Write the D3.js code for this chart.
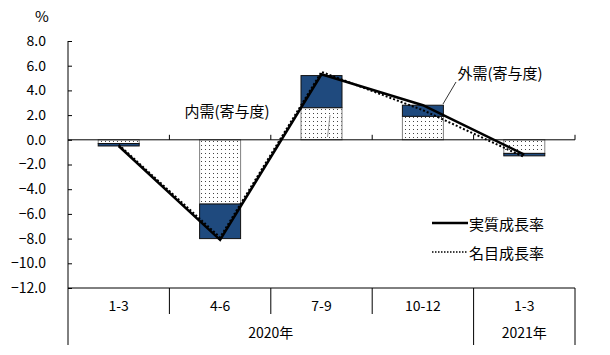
<!DOCTYPE html>
<html><head><meta charset="utf-8">
<script src="https://cdn.jsdelivr.net/npm/d3@7"></script>
<style>
body{margin:0;background:#fff;}
text{font-family:"Noto Sans CJK JP","Noto Sans",sans-serif;fill:#000;}
</style></head>
<body><svg id="c" width="610" height="355"></svg>
<script>
const categories = ["1-3","4-6","7-9","10-12","1-3"];
const years = [{label:"2020年", from:0, to:4},{label:"2021年", from:4, to:5}];
const domestic = [-0.3,-5.2,2.6,1.9,-1.1];
const external = [-0.2,-2.8,2.6,0.9,-0.2];
const realGrowth = [-0.5,-8.1,5.3,2.8,-1.2];
const nominalGrowth = [-0.4,-7.9,5.5,2.4,-1.4];
const yTicks = [8,6,4,2,0,-2,-4,-6,-8,-10,-12];

const svg = d3.select("#c");
const L=68, R=575, T=41, B=288;
const x = d3.scaleBand().domain(d3.range(categories.length)).range([L,R]).paddingInner(0).paddingOuter(0);
const y = d3.scaleLinear().domain([-12,8]).range([B,T]);
const bw = 41;

const defs = svg.append("defs");
const pat = defs.append("pattern").attr("id","dots").attr("patternUnits","userSpaceOnUse").attr("width",4).attr("height",4);
pat.append("rect").attr("width",4).attr("height",4).attr("fill","#fff");
pat.append("rect").attr("x",1).attr("y",1).attr("width",1).attr("height",1).attr("fill","#444");

// bars
const g = svg.append("g");
categories.forEach((c,i)=>{
  const cx = x(i)+x.bandwidth()/2;
  const d = domestic[i], e = external[i];
  g.append("rect").attr("x",cx-bw/2).attr("width",bw)
   .attr("y",Math.min(y(0),y(d))).attr("height",Math.abs(y(d)-y(0)))
   .attr("fill","url(#dots)").attr("stroke","#808080").attr("stroke-width",1);
  g.append("rect").attr("x",cx-bw/2).attr("width",bw)
   .attr("y",Math.min(y(d),y(d+e))).attr("height",Math.abs(y(d+e)-y(d)))
   .attr("fill","#1f4a7e").attr("stroke","#111").attr("stroke-width",1);
});

// axes
const yAxis = d3.axisLeft(y).tickValues(yTicks).tickSize(-4).tickFormat(d3.format(".1f")).tickPadding(22);
const ya = svg.append("g").attr("transform",`translate(${L},0)`).call(yAxis);
ya.select(".domain").remove();
ya.selectAll("text").style("font-size","14px");
ya.selectAll("line").attr("stroke","#000");
svg.append("line").attr("x1",L).attr("x2",L).attr("y1",T).attr("y2",345).attr("stroke","#000");

// zero line with ticks
svg.append("line").attr("x1",L).attr("x2",R).attr("y1",y(0)).attr("y2",y(0)).attr("stroke","#000");
d3.range(1,categories.length+1).forEach(i=>{
  const xx = L + i*x.bandwidth();
  svg.append("line").attr("x1",xx).attr("x2",xx).attr("y1",y(0)).attr("y2",y(0)-5).attr("stroke","#000");
});

// bottom category table
svg.append("line").attr("x1",L).attr("x2",R).attr("y1",B).attr("y2",B).attr("stroke","#000");
d3.range(1,categories.length+1).forEach(i=>{
  const xx = L + i*x.bandwidth();
  const full = years.some(yy=>yy.to===i);
  svg.append("line").attr("x1",xx).attr("x2",xx).attr("y1",B).attr("y2",full?345:314).attr("stroke","#000");
});
categories.forEach((c,i)=>{
  svg.append("text").attr("x",x(i)+x.bandwidth()/2).attr("y",305).attr("text-anchor","middle")
   .attr("dominant-baseline","central").style("font-size","14px").text(c);
});
years.forEach(yy=>{
  svg.append("text").attr("x",(x(yy.from)+L+yy.to*x.bandwidth())/2).attr("y",332).attr("text-anchor","middle")
   .attr("dominant-baseline","central").style("font-size","14px").text(yy.label);
});

// lines
const line = d3.line().x((d,i)=>x(i)+x.bandwidth()/2).y(d=>y(d));
svg.append("path").datum(nominalGrowth).attr("d",line).attr("fill","none").attr("stroke","#000")
  .attr("stroke-width",2).attr("stroke-dasharray","2,2");
svg.append("path").datum(realGrowth).attr("d",line).attr("fill","none").attr("stroke","#000")
  .attr("stroke-width",2.5);

// % label
svg.append("text").attr("x",42).attr("y",15).attr("text-anchor","middle").attr("dominant-baseline","central")
  .style("font-size","15px").text("%");

// annotations
svg.append("text").attr("x",227).attr("y",110).attr("text-anchor","middle").attr("dominant-baseline","central")
  .style("font-size","15px").text("内需(寄与度)");
svg.append("line").attr("x1",330).attr("y1",115).attr("x2",327.5).attr("y2",137).attr("stroke","#999");
svg.append("text").attr("x",500).attr("y",72).attr("text-anchor","middle").attr("dominant-baseline","central")
  .style("font-size","15px").text("外需(寄与度)");
svg.append("line").attr("x1",456).attr("y1",82).attr("x2",443).attr("y2",104).attr("stroke","#000").attr("stroke-width",0.8);

// legend
svg.append("line").attr("x1",432).attr("x2",468).attr("y1",223).attr("y2",223).attr("stroke","#000").attr("stroke-width",2.5);
svg.append("text").attr("x",469).attr("y",223).attr("dominant-baseline","central").style("font-size","15px").text("実質成長率");
svg.append("line").attr("x1",432).attr("x2",468).attr("y1",252).attr("y2",252).attr("stroke","#000").attr("stroke-width",1.5).attr("stroke-dasharray","1.5,1.5");
svg.append("text").attr("x",469).attr("y",252).attr("dominant-baseline","central").style("font-size","15px").text("名目成長率");
</script></body></html>
